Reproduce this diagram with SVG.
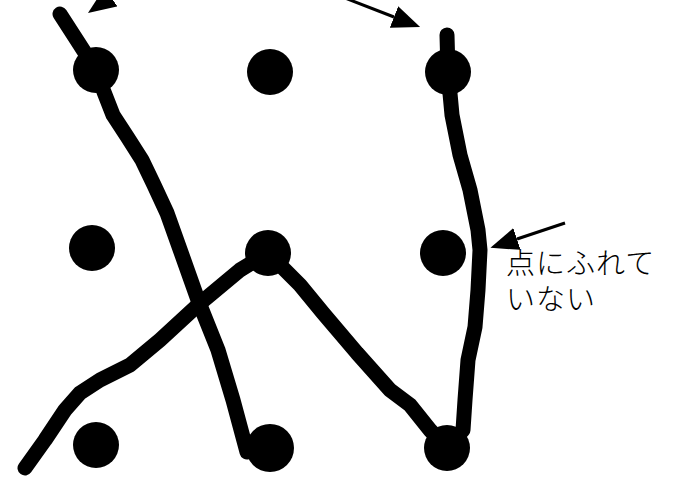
<svg xmlns="http://www.w3.org/2000/svg" width="682" height="477" viewBox="0 0 682 477">
<style>
.dot{fill:#000}
.stroke{fill:none;stroke:#000;stroke-width:15;stroke-linecap:round;stroke-linejoin:round}
.arrow{fill:none;stroke:#000;stroke-width:3}
.label{font-family:"Liberation Sans","Noto Sans CJK JP",sans-serif;font-size:29px;fill:#000;font-weight:300;letter-spacing:1px}
</style>
<defs>
<marker id="ah" viewBox="0 0 28 23" markerWidth="28" markerHeight="23" refX="0" refY="11.5" orient="auto" markerUnits="userSpaceOnUse">
<path d="M0,0 L28,11.5 L0,23 Z" fill="#000"/>
</marker>
</defs>
<rect width="682" height="477" fill="#fff"/>
<g id="connectors">
<path class="stroke" d="M60,14 L80,45 L96,70 L104,92 L113,115 L128,138 L142,160 L154,185 L167,213 L182,255 L198,300 L218,350 L233,400 L247,452"/>
<path class="stroke" d="M25,468 L45,440 L65,410 L80,393 L100,380 L130,365 L160,340 L198,305 L240,270 L268,253 L300,285 L323,313 L357,353 L390,390 L410,405 L430,430 L447,448 L463,430 L465,400 L468,360 L475,327 L478,290 L480,250 L478,230 L470,190 L460,155 L452,115 L448,72 L447,35"/>
<line class="arrow" x1="150" y1="-30" x2="111" y2="-3" marker-end="url(#ah)"/>
<line class="arrow" x1="345" y1="-2" x2="394" y2="17" marker-end="url(#ah)"/>
<line class="arrow" x1="565" y1="223" x2="517" y2="239" marker-end="url(#ah)"/>
</g>
<g id="dot-1-1"><circle class="dot" cx="96" cy="70" r="23"/></g>
<g id="dot-1-2"><circle class="dot" cx="270" cy="72" r="23"/></g>
<g id="dot-1-3"><circle class="dot" cx="448" cy="72" r="23"/></g>
<g id="dot-2-1"><circle class="dot" cx="92" cy="248" r="23"/></g>
<g id="dot-2-2"><circle class="dot" cx="268" cy="253" r="23"/></g>
<g id="dot-2-3"><circle class="dot" cx="443" cy="253" r="23"/></g>
<g id="dot-3-1"><circle class="dot" cx="96" cy="445" r="23"/></g>
<g id="dot-3-2"><circle class="dot" cx="270" cy="448" r="24"/></g>
<g id="dot-3-3"><circle class="dot" cx="447" cy="448" r="23"/></g>
<g id="label">
<text class="label" x="506" y="274">点にふれて<tspan x="506" y="310">いない</tspan></text>
</g>
</svg>
